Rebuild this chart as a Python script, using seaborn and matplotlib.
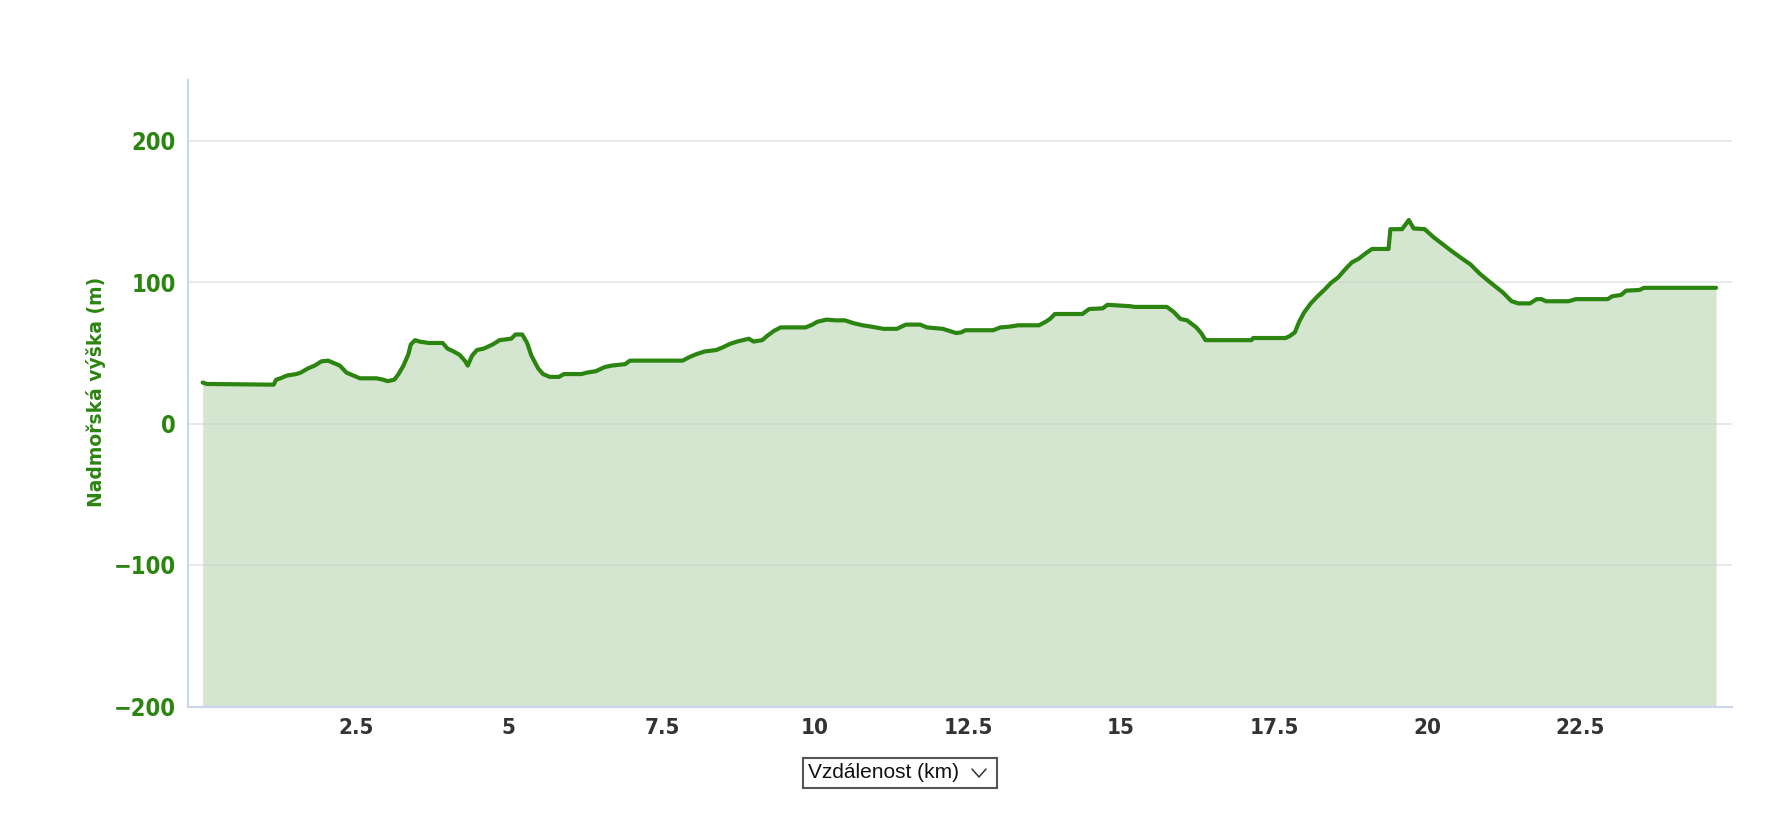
import matplotlib
matplotlib.use("Agg")
import matplotlib.pyplot as plt
from matplotlib.lines import Line2D
from matplotlib.patches import Rectangle
from matplotlib import font_manager
import seaborn as sns
import pandas as pd

# elevation profile
distance_km = [0.0, 0.07, 1.16, 1.2, 1.27, 1.38, 1.53, 1.6, 1.72, 1.83, 1.94, 2.05, 2.13,
               2.24, 2.35, 2.46, 2.57, 2.84, 2.95, 3.02, 3.13, 3.2, 3.28, 3.36, 3.4, 3.47,
               3.54, 3.69, 3.92, 4.0, 4.1, 4.2, 4.29, 4.33, 4.4, 4.48, 4.59, 4.74, 4.85,
               5.04, 5.11, 5.22, 5.3, 5.37, 5.48, 5.56, 5.67, 5.82, 5.9, 6.19, 6.27, 6.42,
               6.57, 6.68, 6.9, 6.98, 7.84, 7.95, 8.06, 8.2, 8.39, 8.5, 8.62, 8.73, 8.92,
               9.0, 9.14, 9.22, 9.33, 9.44, 9.85, 9.96, 10.04, 10.19, 10.34, 10.49, 10.63,
               10.78, 10.93, 11.12, 11.34, 11.46, 11.49, 11.72, 11.83, 12.09, 12.2, 12.31,
               12.39, 12.46, 12.91, 13.03, 13.17, 13.32, 13.66, 13.77, 13.84, 13.92, 14.37,
               14.48, 14.7, 14.78, 15.15, 15.22, 15.75, 15.86, 15.97, 16.08, 16.23, 16.31,
               16.38, 17.13, 17.16, 17.69, 17.76, 17.84, 17.91, 17.99, 18.1, 18.21, 18.32,
               18.43, 18.55, 18.66, 18.77, 18.88, 19.0, 19.1, 19.37, 19.4, 19.59, 19.66,
               19.7, 19.78, 19.96, 20.1, 20.25, 20.4, 20.56, 20.71, 20.86, 21.04, 21.23,
               21.38, 21.49, 21.68, 21.79, 21.87, 21.94, 22.31, 22.43, 22.95, 23.02, 23.17,
               23.25, 23.47, 23.54, 24.72]
elevation_m = [29, 28, 27.5, 31, 32, 34, 35, 36, 39, 41, 44, 44.5, 43,
               41, 36, 34, 32, 32, 31, 30, 31, 35, 41, 49, 56, 59,
               58, 57, 57, 53, 51, 48.5, 44, 41, 48, 52, 53, 56, 59,
               60, 63, 63, 57, 48, 39, 35, 33, 33, 35, 35, 36, 37,
               40, 41, 42, 44.5, 44.5, 47, 49, 51, 52, 54, 56.5, 58, 60,
               58, 59, 62, 65.5, 68, 68, 70, 72, 73.5, 73, 73, 71,
               69.5, 68.5, 67, 67, 69.5, 70, 70, 68, 67, 65.5, 64,
               64.5, 66, 66, 68, 68.5, 69.5, 69.5, 72, 74, 77.5, 77.5,
               81, 81.5, 84, 83, 82.5, 82.5, 79, 74, 73, 68, 64,
               59, 59, 60.5, 60.5, 62, 64.5, 72, 78.5, 85, 90, 94.5,
               99.5, 103.5, 109, 114, 116.5, 120.5, 123.5, 123.5, 137.5, 137.5, 141.5,
               144, 138, 137.5, 132, 127, 122, 117, 112.5, 106, 99.5, 93,
               86.5, 85, 85, 88, 88, 86.5, 86.5, 88, 88, 90, 91,
               94, 94.5, 96, 96]

x_ticks = [0, 2.5, 5, 7.5, 10, 12.5, 15, 17.5, 20, 22.5]
x_tick_labels = ["", "2.5", "5", "7.5", "10", "12.5", "15", "17.5", "20", "22.5"]
y_ticks = [-200, -100, 0, 100, 200]
y_tick_labels = ["\u2212200", "\u2212100", "0", "100", "200"]

green = "#2b8510"
axis_col = "#ccd6eb"

sns.set_style("white")
plt.rcParams["font.family"] = ["DejaVu Sans"]

# condensed face for the tick labels
tick_font = font_manager.FontProperties(family="DejaVu Sans", stretch="condensed",
                                        weight="bold")

df = pd.DataFrame({"km": distance_km, "m": elevation_m})

fig = plt.figure(figsize=(17.9, 8.36), dpi=100)
ax = fig.add_axes([0.105, 0.1543, 0.8626, 0.75])
ax.set_xlim(-0.24, 24.98)
ax.set_ylim(-200.5, 243)

ax.fill_between(df["km"], df["m"], -200.5, color=green, alpha=0.2, lw=0, zorder=1)
sns.lineplot(data=df, x="km", y="m", ax=ax, color=green, lw=3.0, zorder=3)

for v in y_ticks[1:]:
    ax.axhline(v, color="#cccccc", alpha=0.5, lw=1.2, zorder=2)

ax.set_xticks(x_ticks)
ax.set_xticklabels(x_tick_labels)
ax.set_yticks(y_ticks)
ax.set_yticklabels(y_tick_labels)
ax.tick_params(axis="x", length=6, width=1.2, color=axis_col, pad=2,
               labelcolor="#333333")
ax.tick_params(axis="y", length=6, width=1.2, color=axis_col, pad=3,
               labelcolor=green)
for lab in ax.get_xticklabels():
    lab.set_fontproperties(tick_font)
    lab.set_fontsize(16)
for lab in ax.get_yticklabels():
    lab.set_fontproperties(tick_font)
    lab.set_fontsize(17)

for side in ["top", "right"]:
    ax.spines[side].set_visible(False)
for side in ["left", "bottom"]:
    ax.spines[side].set_color(axis_col)
    ax.spines[side].set_linewidth(1.5)

ax.set_xlabel("")
ax.set_ylabel("Nadmořská výška (m)", color=green, fontsize=13.5, fontweight="bold",
              family="DejaVu Sans", labelpad=0)
ax.yaxis.set_label_coords(-0.053, 0.503)

# dropdown under the chart
W, H = 1790, 836
fig.patches.append(Rectangle((803 / W, 1 - 788 / H), 194 / W, 30 / H,
                             transform=fig.transFigure, fill=False,
                             edgecolor="#555555", lw=1.5))
fig.text(808 / W, 1 - 773 / H, "Vzdálenost (km)", fontsize=15, family="Liberation Sans",
         color="#111111", va="center", ha="left")
fig.lines.append(Line2D([972 / W, 979 / W, 986 / W],
                        [1 - 769 / H, 1 - 777 / H, 1 - 769 / H],
                        transform=fig.transFigure, color="#333333", lw=1.1))

fig.savefig("out.png", dpi=100)
